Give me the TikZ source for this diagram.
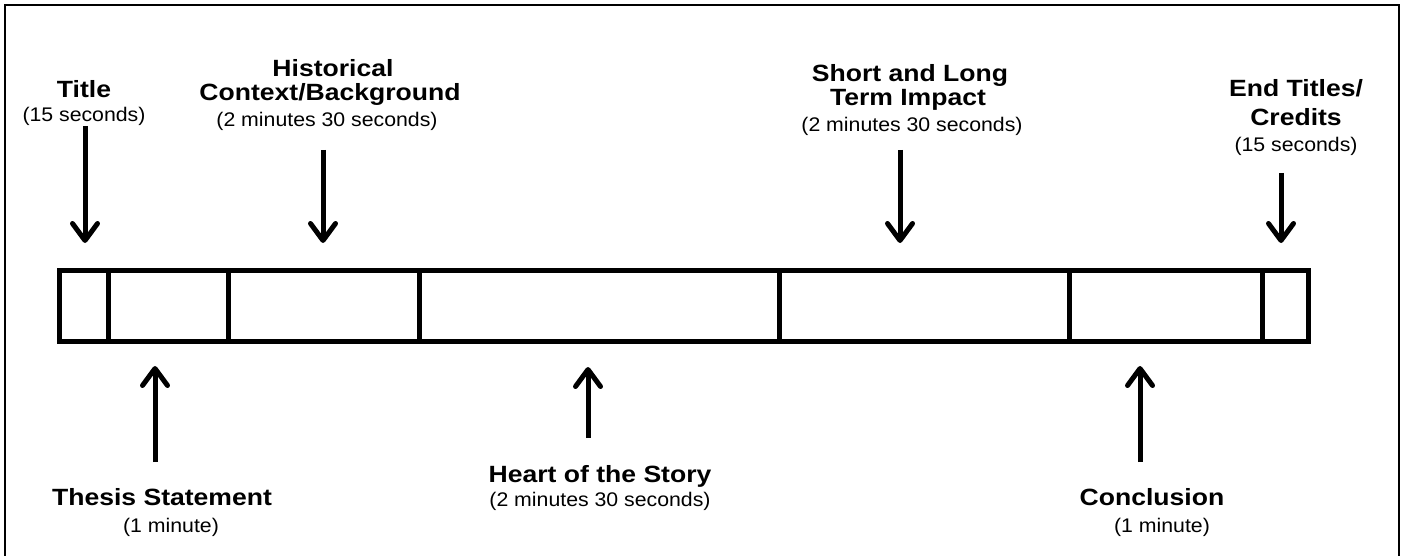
\documentclass[tikz,border=0pt]{standalone}
\usepackage{fontspec}
\setmainfont{Liberation Sans}
\newfontfamily\hdfont[FakeStretch=1.13]{Liberation Sans Bold}
\newfontfamily\subfont[FakeStretch=1.08]{Liberation Sans}
\usetikzlibrary{arrows.meta}
\begin{document}
\begin{tikzpicture}[x=1pt,y=-1pt,
  hd/.style={font=\hdfont\fontsize{23.5}{25}\selectfont, anchor=base, inner sep=0pt},
  sub/.style={font=\subfont\fontsize{19.7}{21}\selectfont, anchor=base, inner sep=0pt},
  arr/.style={line width=5pt, -{Straight Barb[length=17pt,width=25pt,line width=5pt,round]}},
  barline/.style={line width=5pt}]
\useasboundingbox (0,0) rectangle (1405,556);
\draw[line width=2pt] (5,560) -- (5,5) -- (1399,5) -- (1399,560);
% bar
\draw[barline] (59,270) rectangle (1308,341);
\foreach \x/\n in {108/d1,228/d2,419/d3,779/d4,1069/d5,1262/d6}{
  \coordinate (\n t) at (\x,270); \coordinate (\n b) at (\x,341);
  \draw[barline] (\n t) -- (\n b);
}
% top labels
\node[hd] (title) at (84,98) {Title};
\node[sub] (titles) at (84,122) {(15 seconds)};
\node[hd] (hist1) at (333,77) {Historical};
\node[hd] (hist2) at (330,101) {Context/Background};
\node[sub] (hists) at (327,127) {(2 minutes 30 seconds)};
\node[hd] (sl1) at (910,82) {Short and Long};
\node[hd] (sl2) at (908,106) {Term Impact};
\node[sub] (sls) at (912,132) {(2 minutes 30 seconds)};
\node[hd] (end1) at (1296,97) {End Titles/};
\node[hd] (end2) at (1296,126) {Credits};
\node[sub] (ends) at (1296,152) {(15 seconds)};
% bottom labels
\node[hd] (th) at (162,505) {Thesis Statement};
\node[sub] (ths) at (171,532) {(1 minute)};
\node[hd] (hs) at (600,482) {Heart of the Story};
\node[sub] (hss) at (600,506) {(2 minutes 30 seconds)};
\node[hd] (co) at (1152,505) {Conclusion};
\node[sub] (cos) at (1162,532) {(1 minute)};
% arrow endpoints
\coordinate (a1s) at (85,126);  \coordinate (a1e) at (85,243);
\coordinate (a2s) at (323,150); \coordinate (a2e) at (323,243);
\coordinate (a3s) at (900,150); \coordinate (a3e) at (900,243);
\coordinate (a4s) at (1281,173); \coordinate (a4e) at (1281,243);
\coordinate (b1s) at (155,462); \coordinate (b1e) at (155,366);
\coordinate (b2s) at (588,438); \coordinate (b2e) at (588,367);
\coordinate (b3s) at (1140,462); \coordinate (b3e) at (1140,366);
\foreach \a in {a1,a2,a3,a4,b1,b2,b3}{ \draw[arr] (\a s) -- (\a e); }
\end{tikzpicture}
\end{document}
